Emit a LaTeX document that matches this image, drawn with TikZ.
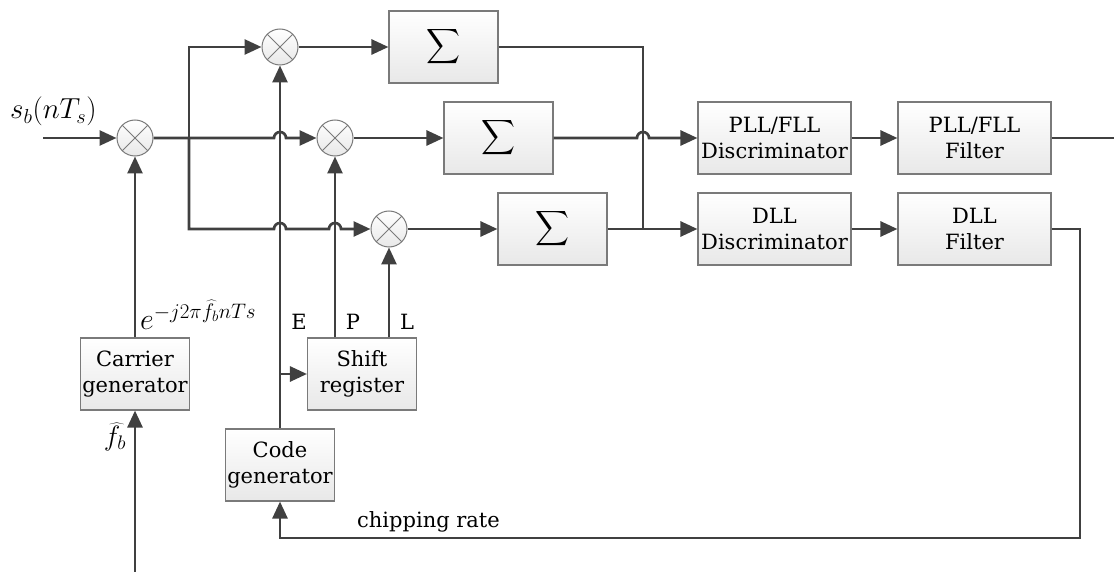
\RequirePackage{fix-cm}
\documentclass[tikz,border=0pt]{standalone}
\usepackage{fontspec}
\setmainfont{DejaVu Serif}
\usetikzlibrary{arrows.meta}
\definecolor{wire}{HTML}{404040}
\definecolor{rim}{HTML}{7A7A7A}
\definecolor{fillbot}{HTML}{E8E8E8}
\newcommand{\sumglyph}{\resizebox*{34pt}{39pt}{$\displaystyle\sum$}}
\tikzset{
  wire/.style={draw=wire, line width=2.7pt},
  arr/.style={wire, -{Triangle[length=17pt,width=15pt]}},
  blk/.style={draw=rim, line width=1.1pt, top color=white, bottom color=fillbot,
    minimum width=109pt, minimum height=72pt, inner sep=0pt, align=center,
    font=\fontsize{21}{26}\selectfont},
  wideblk/.style={blk, minimum width=153pt},
  mult/.style={circle, draw=rim, line width=1pt, top color=white, bottom color=fillbot,
    minimum size=36pt, inner sep=0pt,
    path picture={\draw[rim, line width=0.9pt]
      (path picture bounding box.north west) -- (path picture bounding box.south east)
      (path picture bounding box.north east) -- (path picture bounding box.south west);}},
  lbl/.style={inner sep=0pt, font=\fontsize{21}{26}\selectfont},
}
\begin{document}
\begin{tikzpicture}[x=1pt,y=1pt]
\useasboundingbox (0,0) rectangle (1114,-572);

% multipliers
\node[mult] (m0) at (135,-138) {};
\node[mult] (m1) at (280,-47) {};
\node[mult] (m2) at (335,-138) {};
\node[mult] (m3) at (389,-229) {};

% integrate-and-dump blocks
\node[blk] (s1) at (443.5,-47) {\sumglyph};
\node[blk] (s2) at (498.5,-138) {\sumglyph};
\node[blk] (s3) at (552.5,-229) {\sumglyph};

% discriminators and loop filters
\node[wideblk] (pd) at (774.5,-138) {PLL/FLL\\Discriminator};
\node[wideblk] (pf) at (974.5,-138) {PLL/FLL\\Filter};
\node[wideblk] (dd) at (774.5,-229) {DLL\\Discriminator};
\node[wideblk] (df) at (974.5,-229) {DLL\\Filter};

% generators
\node[blk] (cg) at (135,-374) {Carrier\\generator};
\node[blk] (sr) at (362,-374) {Shift\\register};
\node[blk] (cd) at (280,-465) {Code\\generator};

% free ends and bends
\coordinate (in) at (43,-138);
\coordinate (br) at (189,-138);
\coordinate (fb) at (135,-572);
\coordinate (out) at (1114,-138);
\coordinate (tap) at (280,-374);
\coordinate (jn) at (643,-229);
\coordinate (loop) at (1080,-538);

% signal path
\draw[arr] (in) -- (m0);
\draw[arr] (fb) -- (cg);
\draw[arr] (cg) -- (m0);
\draw[arr] (m0) -- (274,-138) arc[start angle=180,end angle=0,radius=6pt] -- (m2);
\draw[arr] (br) |- (m1);
\draw[arr] (br) -- (189,-229) -- (274,-229)
  arc[start angle=180,end angle=0,radius=6pt] -- (329,-229)
  arc[start angle=180,end angle=0,radius=6pt] -- (m3);
\draw[arr] (m1) -- (s1);
\draw[arr] (m2) -- (s2);
\draw[arr] (m3) -- (s3);
\draw[wire] (s1) -| (jn);
\draw[arr] (s2) -- (637,-138) arc[start angle=180,end angle=0,radius=6pt] -- (pd);
\draw[arr] (s3) -- (dd);
\draw[arr] (pd) -- (pf);
\draw[arr] (dd) -- (df);
\draw[wire] (pf) -- (out);

% code loop
\draw[arr] (df.east) -| (loop) -| (cd.south);
\draw[arr] (cd) -- (m1);
\draw[arr] (tap) -- (sr);
\draw[arr] (sr.north -| m2) -- (m2);
\draw[arr] (sr.north -| m3) -- (m3);

% labels
\node[inner sep=0pt, anchor=base west] (sig) at (10,-119)
  {\fontsize{29}{31}\selectfont$s_b(nT_s)$};
\node[inner sep=0pt, anchor=base west] (carr) at (140,-329)
  {\fontsize{30}{32}\selectfont$e^{-j2\pi\widehat{f}_b nTs}$};
\node[inner sep=0pt] (fhat) at (115,-437)
  {\fontsize{28}{30}\selectfont$\widehat{f}_b$};
\node[lbl, anchor=base] (le) at (299,-329) {E};
\node[lbl, anchor=base] (lp) at (353,-329) {P};
\node[lbl, anchor=base] (ll) at (407,-329) {L};
\node[lbl, anchor=base west] (chip) at (357,-527) {chipping rate};
\end{tikzpicture}
\end{document}
